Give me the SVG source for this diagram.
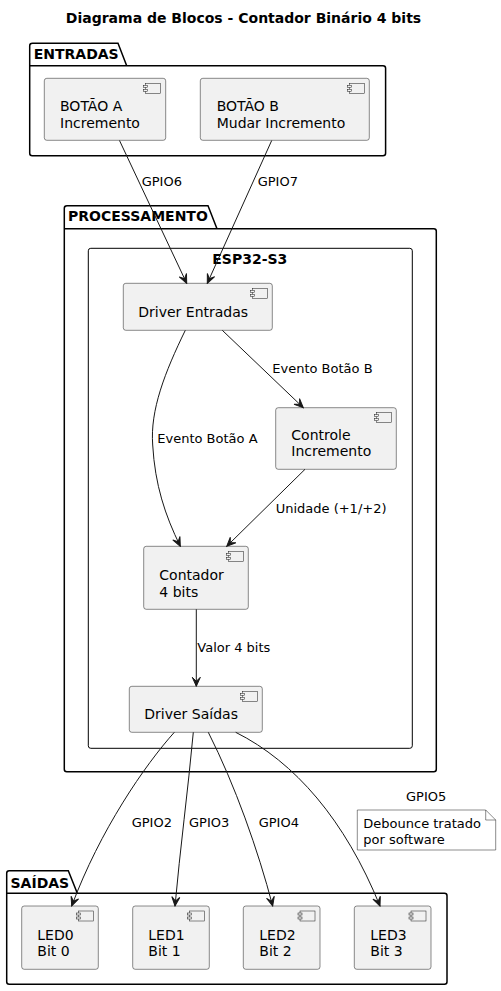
<svg xmlns="http://www.w3.org/2000/svg" width="501" height="991" viewBox="0 0 501 991">
<defs>
<style>
.pkg{fill:none;stroke:#000;stroke-width:1.5}
.frame{fill:none;stroke:#000;stroke-width:1}
.node{fill:#F1F1F1;stroke:#181818;stroke-width:0.5}
.ico{fill:#F1F1F1;stroke:#181818;stroke-width:0.5}
.t{font-family:"DejaVu Sans",sans-serif;font-size:14px;fill:#000}
.b{font-family:"DejaVu Sans",sans-serif;font-size:14px;font-weight:bold;fill:#000}
.l{font-family:"DejaVu Sans",sans-serif;font-size:13px;fill:#000}
.e{fill:none;stroke:#181818;stroke-width:1;marker-end:url(#arr)}
</style>
<marker id="arr" markerUnits="userSpaceOnUse" viewBox="-10 -5 11 10" refX="0" refY="0" markerWidth="11" markerHeight="10" orient="auto">
<path d="M0,0 L-9,-4 L-5,0 L-9,4 Z" fill="#181818" stroke="#181818" stroke-width="1"/>
</marker>
</defs>
<rect width="501" height="991" fill="#fff"/>
<text class="b" x="243.5" y="23" text-anchor="middle">Diagrama de Blocos - Contador Binário 4 bits</text>

<g id="ENTRADAS">
<path class="pkg" d="M32.5,43.3 L118,43.3 L126.7,65.7 L383,65.7 Q385.6,65.7 385.6,68.2 L385.6,153.2 Q385.6,155.7 383,155.7 L32.2,155.7 Q29.7,155.7 29.7,153.2 L29.7,45.8 Q29.7,43.3 32.5,43.3 Z M29.7,65.7 L126.7,65.7"/>
<text class="b" x="33.7" y="58.5">ENTRADAS</text>
</g>
<g id="BOTAO_A">
<rect class="node" x="44.3" y="78.3" width="121.4" height="62" rx="2.5"/>
<rect class="ico" x="145.7" y="83.3" width="15" height="10"/><rect class="ico" x="143.7" y="85.3" width="4" height="2"/><rect class="ico" x="143.7" y="89.3" width="4" height="2"/>
<text class="t" x="60" y="111">BOTÃO A</text><text class="t" x="60" y="127.5">Incremento</text>
</g>
<g id="BOTAO_B">
<rect class="node" x="200.3" y="78.3" width="169" height="62" rx="2.5"/>
<rect class="ico" x="349.3" y="83.3" width="15" height="10"/><rect class="ico" x="347.3" y="85.3" width="4" height="2"/><rect class="ico" x="347.3" y="89.3" width="4" height="2"/>
<text class="t" x="216.7" y="111">BOTÃO B</text><text class="t" x="216.7" y="127.5">Mudar Incremento</text>
</g>

<g id="PROCESSAMENTO">
<path class="pkg" d="M67,205.7 L208,205.7 L217,228.7 L433.8,228.7 Q436.3,228.7 436.3,231.2 L436.3,769.2 Q436.3,771.7 433.8,771.7 L66.8,771.7 Q64.3,771.7 64.3,769.2 L64.3,208.2 Q64.3,205.7 67,205.7 Z M64.3,228.7 L217,228.7"/>
<text class="b" x="68" y="221">PROCESSAMENTO</text>
</g>
<g id="ESP32-S3">
<rect class="frame" x="88.3" y="248.3" width="324" height="500" rx="2.5"/>
<text class="b" x="212.3" y="263.5">ESP32-S3</text>
</g>
<g id="DriverEntradas">
<rect class="node" x="123.3" y="283.3" width="149" height="47" rx="2.5"/>
<rect class="ico" x="252.3" y="288.3" width="15" height="10"/><rect class="ico" x="250.3" y="290.3" width="4" height="2"/><rect class="ico" x="250.3" y="294.3" width="4" height="2"/>
<text class="t" x="138.3" y="316.7">Driver Entradas</text>
</g>
<g id="ControleIncremento">
<rect class="node" x="275.7" y="407.7" width="120.6" height="61.6" rx="2.5"/>
<rect class="ico" x="376.3" y="412.7" width="15" height="10"/><rect class="ico" x="374.3" y="414.7" width="4" height="2"/><rect class="ico" x="374.3" y="418.7" width="4" height="2"/>
<text class="t" x="291.3" y="439.5">Controle</text><text class="t" x="291.3" y="456">Incremento</text>
</g>
<g id="Contador">
<rect class="node" x="143.7" y="546.3" width="104.6" height="63" rx="2.5"/>
<rect class="ico" x="228.3" y="551.3" width="15" height="10"/><rect class="ico" x="226.3" y="553.3" width="4" height="2"/><rect class="ico" x="226.3" y="557.3" width="4" height="2"/>
<text class="t" x="159.3" y="580">Contador</text><text class="t" x="159.3" y="596.5">4 bits</text>
</g>
<g id="DriverSaidas">
<rect class="node" x="129.3" y="686.3" width="133" height="46" rx="2.5"/>
<rect class="ico" x="242.3" y="691.3" width="15" height="10"/><rect class="ico" x="240.3" y="693.3" width="4" height="2"/><rect class="ico" x="240.3" y="697.3" width="4" height="2"/>
<text class="t" x="144.3" y="719">Driver Saídas</text>
</g>

<g id="nota">
<path d="M357.3,810 L485.7,810 L495.7,820 L495.7,850 L357.3,850 Z" fill="#fff" stroke="#181818" stroke-width="0.5"/>
<path d="M485.7,810 L485.7,820 L495.7,820" fill="none" stroke="#181818" stroke-width="0.5"/>
<text class="l" x="363.3" y="828">Debounce tratado</text><text class="l" x="363.3" y="843.5">por software</text>
</g>

<g id="SAIDAS">
<path class="pkg" d="M9.2,870.7 L68.3,870.7 L77.3,893.3 L444.5,893.3 Q447,893.3 447,895.8 L447,981.8 Q447,984.3 444.5,984.3 L9.2,984.3 Q6.7,984.3 6.7,981.8 L6.7,873.2 Q6.7,870.7 9.2,870.7 Z M6.7,893.3 L77.3,893.3"/>
<text class="b" x="10.5" y="887.5">SAÍDAS</text>
</g>
<g id="LED0">
<rect class="node" x="21.7" y="906" width="76.6" height="63.3" rx="2.5"/>
<rect class="ico" x="78.3" y="911" width="15" height="10"/><rect class="ico" x="76.3" y="913" width="4" height="2"/><rect class="ico" x="76.3" y="917" width="4" height="2"/>
<text class="t" x="37.3" y="939.5">LED0</text><text class="t" x="37.3" y="956">Bit 0</text>
</g>
<g id="LED1">
<rect class="node" x="132.7" y="906" width="76.6" height="63.3" rx="2.5"/>
<rect class="ico" x="189.3" y="911" width="15" height="10"/><rect class="ico" x="187.3" y="913" width="4" height="2"/><rect class="ico" x="187.3" y="917" width="4" height="2"/>
<text class="t" x="148.3" y="939.5">LED1</text><text class="t" x="148.3" y="956">Bit 1</text>
</g>
<g id="LED2">
<rect class="node" x="243.3" y="906" width="76.7" height="63.3" rx="2.5"/>
<rect class="ico" x="300" y="911" width="15" height="10"/><rect class="ico" x="298" y="913" width="4" height="2"/><rect class="ico" x="298" y="917" width="4" height="2"/>
<text class="t" x="259.3" y="939.5">LED2</text><text class="t" x="259.3" y="956">Bit 2</text>
</g>
<g id="LED3">
<rect class="node" x="354.3" y="906" width="76.7" height="63.3" rx="2.5"/>
<rect class="ico" x="411" y="911" width="15" height="10"/><rect class="ico" x="409" y="913" width="4" height="2"/><rect class="ico" x="409" y="917" width="4" height="2"/>
<text class="t" x="370.3" y="939.5">LED3</text><text class="t" x="370.3" y="956">Bit 3</text>
</g>

<g id="connectors">
<path class="e" d="M119.5,140.5 L186.7,283.3"/>
<text class="l" x="141.7" y="186">GPIO6</text>
<path class="e" d="M271.7,140.5 L207.3,283.3"/>
<text class="l" x="257.7" y="186">GPIO7</text>
<path class="e" d="M185.3,330.3 C165,372 150,410 152.7,445 C155,485 165,515 180.3,546.3"/>
<text class="l" x="157.3" y="443">Evento Botão A</text>
<path class="e" d="M222.3,330.3 L303.3,407.7"/>
<text class="l" x="272.3" y="373">Evento Botão B</text>
<path class="e" d="M305,469.3 L226.7,546.3"/>
<text class="l" x="275.7" y="513">Unidade (+1/+2)</text>
<path class="e" d="M196.3,609.3 L196.3,686.3"/>
<text class="l" x="197.3" y="652">Valor 4 bits</text>
<path class="e" d="M174.3,732.3 C145,765 100,830 71.7,906"/>
<text class="l" x="131.7" y="827">GPIO2</text>
<path class="e" d="M193.3,732.3 C188,790 180,850 175,906"/>
<text class="l" x="189" y="827">GPIO3</text>
<path class="e" d="M208.3,732.3 C235,785 258,850 272.7,906"/>
<text class="l" x="258.7" y="827">GPIO4</text>
<path class="e" d="M235.7,732.3 C295,762 345,820 380,906"/>
<text class="l" x="406" y="801">GPIO5</text>
</g>
</svg>
